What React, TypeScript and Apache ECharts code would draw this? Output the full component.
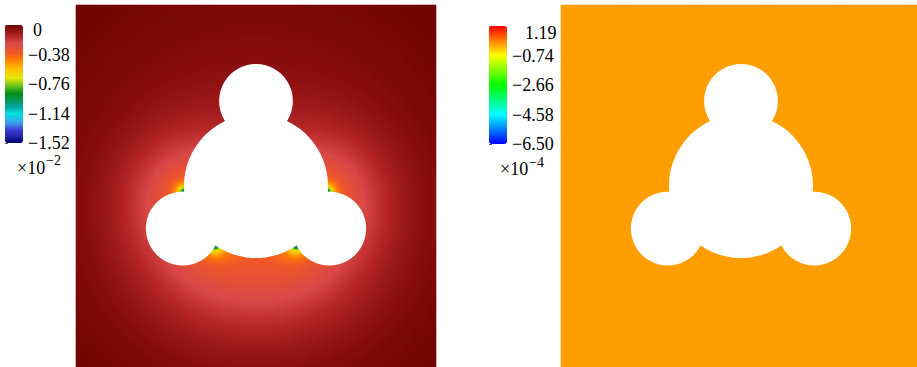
import React, { useEffect, useRef } from "react";
import * as echarts from "echarts";

// ---- Cut-out geometry (domain [-1, 1] x [-1, 1]): a large disc and three small discs ----
const holeX = [0, 0, -0.407, 0.407];
const holeY = [0, 0.47, -0.235, -0.235];
const holeR = [0.4, 0.205, 0.205, 0.205];

// ---- Left field (x10^-2): concentration at the four re-entrant corners ----
const leftMin = -1.52;
const leftMax = 0;
const leftTickValues = [0, -0.38, -0.76, -1.14, -1.52];
const leftTickLabels = ["0", "\u22120.38", "\u22120.76", "\u22121.14", "\u22121.52"];
const leftCols = 180;
const leftRows = 181;
// corners formed by the large disc with the left / right discs (indices into hole arrays)
const cornerPairs = [2, 3];
// halo strength and spread for the upper and lower corners
const haloAmp = { upper: 0.12, lower: 0.155 };
const haloSpread = { upper: 0.25, lower: 0.333 };
const coreAmp = 0.0167;
const coreSize = 0.0139;
const coreDecay = 0.139;
const broadAmp = 0.09;
const broadSpread = 0.694;

// ---- Right field (x10^-4): uniform ----
const rightMin = -6.5;
const rightMax = 1.19;
const rightTickValues = [1.19, -0.74, -2.66, -4.58, -6.5];
const rightTickLabels = ["1.19", "\u22120.74", "\u22122.66", "\u22124.58", "\u22126.50"];
const rightLevel = 0;
const rightCols = 40;
const rightRows = 181;

// ---- Colour maps ----
const leftStopT = [0, 0.05, 0.11, 0.17, 0.25, 0.3, 0.42, 0.48, 0.55, 0.63, 0.7, 0.76, 0.85, 0.9, 1];
const leftStopC = [
  "#000070", "#2020a0", "#3c3cd8", "#40a0f0", "#00e0e0", "#00a8a8", "#008c10",
  "#60c020", "#e6e600", "#ffc000", "#ff8000", "#f05828", "#d84848", "#b82828", "#6c0000",
];
const rightColors = [
  "#0000ff", "#0055ff", "#00aaff", "#00ffff", "#00ffaa", "#00ff55", "#00ff00",
  "#55ff00", "#aaff00", "#ffff00", "#ffaa00", "#ff5500", "#ff0000",
];

const FONT = "'Liberation Serif', 'DejaVu Serif', serif";
const LABEL_SIZE = 18;

function hexRgb(h: string) {
  const n = parseInt(h.slice(1), 16);
  return [(n >> 16) & 255, (n >> 8) & 255, n & 255];
}

function resample(ts: number[], cs: string[], n: number): string[] {
  const out: string[] = [];
  for (let k = 0; k < n; k++) {
    const t = k / (n - 1);
    let i = 0;
    while (i < ts.length - 2 && t > ts[i + 1]) i++;
    const f = Math.min(1, Math.max(0, (t - ts[i]) / (ts[i + 1] - ts[i])));
    const a = hexRgb(cs[i]);
    const b = hexRgb(cs[i + 1]);
    const c = a.map((v, j) => Math.round(v + (b[j] - v) * f));
    out.push(`rgb(${c[0]},${c[1]},${c[2]})`);
  }
  return out;
}

// intersection points of hole discs i and j
function discMeet(i: number, j: number): number[][] {
  const dx = holeX[j] - holeX[i];
  const dy = holeY[j] - holeY[i];
  const d = Math.hypot(dx, dy);
  const a = (d * d + holeR[i] ** 2 - holeR[j] ** 2) / (2 * d);
  const h = Math.sqrt(Math.max(0, holeR[i] ** 2 - a * a));
  const mx = holeX[i] + (a * dx) / d;
  const my = holeY[i] + (a * dy) / d;
  return [
    [mx - (h * dy) / d, my + (h * dx) / d],
    [mx + (h * dy) / d, my - (h * dx) / d],
  ];
}

const corners: number[][] = [];
cornerPairs.forEach((j) => {
  discMeet(0, j).forEach(([x, y]) => {
    const lower = y < holeY[j];
    corners.push([
      x,
      y,
      lower ? haloAmp.lower : haloAmp.upper,
      lower ? haloSpread.lower : haloSpread.upper,
    ]);
  });
});

function leftField(x: number, y: number) {
  let s = broadAmp * Math.exp(-(x * x + y * y) / (2 * broadSpread * broadSpread));
  for (const [cx, cy, amp, spread] of corners) {
    const d = Math.hypot(x - cx, y - cy);
    s += (coreAmp / (d + coreSize)) * Math.exp(-d / coreDecay);
    s += amp * Math.exp(-(d * d) / (2 * spread * spread));
  }
  return Math.max(leftMin, Math.min(leftMax, -s));
}

function deepInsideHole(x: number, y: number, margin: number) {
  for (let k = 0; k < holeX.length; k++) {
    if (Math.hypot(x - holeX[k], y - holeY[k]) < holeR[k] - margin) return true;
  }
  return false;
}

function buildCells(nx: number, ny: number, fn: (x: number, y: number) => number) {
  const cells: number[][] = [];
  const sx = 2 / nx;
  const sy = 2 / ny;
  const margin = 1.5 * Math.max(sx, sy);
  for (let i = 0; i < nx; i++) {
    for (let j = 0; j < ny; j++) {
      const x = -1 + (i + 0.5) * sx;
      const y = -1 + (j + 0.5) * sy;
      if (deepInsideHole(x, y, margin)) continue;
      cells.push([i, j, fn(x, y)]);
    }
  }
  return cells;
}

const leftCells = buildCells(leftCols, leftRows, leftField);
const rightCells = buildCells(rightCols, rightRows, () => rightLevel);
const holeRows = holeX.map((x, k) => [x, holeY[k], holeR[k]]);
const idx = (n: number) => Array.from({ length: n }, (_, k) => String(k));

function nearestIndex(values: number[], v: number) {
  let best = 0;
  values.forEach((t, k) => {
    if (Math.abs(t - v) < Math.abs(values[best] - v)) best = k;
  });
  return best;
}

const holeSeries = (axisIndex: number) => ({
  type: "custom",
  xAxisIndex: axisIndex,
  yAxisIndex: axisIndex,
  silent: true,
  data: holeRows,
  renderItem: (_p: any, api: any) => {
    const c = api.coord([api.value(0), api.value(1)]);
    const s = api.size([api.value(2), api.value(2)]);
    return {
      type: "circle",
      shape: { cx: c[0], cy: c[1], r: s[0] },
      style: { fill: "#ffffff" },
    };
  },
});

// colour-bar tick labels on the axis; the top label is drawn separately, a little lower
const barAxis = (
  gridIndex: number,
  min: number,
  max: number,
  values: number[],
  labels: string[],
  shift: number
) => ({
  type: "value",
  gridIndex,
  min,
  max,
  position: "right",
  splitLine: { show: false },
  axisLine: { show: false },
  axisTick: { show: true, length: 3, lineStyle: { color: "#555", width: 1 } },
  axisLabel: {
    margin: 5,
    fontFamily: FONT,
    fontSize: LABEL_SIZE,
    color: "#000",
    padding: [shift * 2, 0, 0, 0],
    showMinLabel: true,
    showMaxLabel: true,
    customValues: values,
    formatter: (v: number) => {
      const k = nearestIndex(values, v);
      return k === 0 ? "" : labels[k];
    },
  },
});

const textStyle = (text: string, size: number) => ({
  text,
  fontFamily: FONT,
  fontSize: size,
  fill: "#000",
  verticalAlign: "middle",
});

const panelLeft = 76;
const panelRight = 561;
const panelTop = 5;
const panelW = 360;
const panelH = 362;

const option: any = {
  animation: false,
  backgroundColor: "#ffffff",
  grid: [
    { left: panelLeft, top: panelTop, width: panelW, height: panelH, outerBoundsMode: "none" },
    { left: panelLeft, top: panelTop, width: panelW, height: panelH, outerBoundsMode: "none" },
    { left: panelRight, top: panelTop, width: panelW, height: panelH, outerBoundsMode: "none" },
    { left: panelRight, top: panelTop, width: panelW, height: panelH, outerBoundsMode: "none" },
    { left: 5, top: 25, width: 18, height: 118, outerBoundsMode: "none" },
    { left: 489, top: 26, width: 18, height: 118, outerBoundsMode: "none" },
  ],
  xAxis: [
    { type: "category", gridIndex: 0, data: idx(leftCols), show: false },
    { type: "value", gridIndex: 1, min: -1, max: 1, show: false },
    { type: "category", gridIndex: 2, data: idx(rightCols), show: false },
    { type: "value", gridIndex: 3, min: -1, max: 1, show: false },
    { type: "value", gridIndex: 4, min: 0, max: 1, show: false },
    { type: "value", gridIndex: 5, min: 0, max: 1, show: false },
  ],
  yAxis: [
    { type: "category", gridIndex: 0, data: idx(leftRows), show: false },
    { type: "value", gridIndex: 1, min: -1, max: 1, show: false },
    { type: "category", gridIndex: 2, data: idx(rightRows), show: false },
    { type: "value", gridIndex: 3, min: -1, max: 1, show: false },
    barAxis(4, leftMin, leftMax, leftTickValues, leftTickLabels, 0),
    barAxis(5, rightMin, rightMax, rightTickValues, rightTickLabels, 1),
  ],
  visualMap: [
    {
      type: "continuous",
      seriesIndex: 0,
      min: leftMin,
      max: leftMax,
      left: 5,
      top: 25,
      itemWidth: 18,
      itemHeight: 118,
      padding: 0,
      calculable: false,
      hoverLink: false,
      inRange: { color: resample(leftStopT, leftStopC, 61) },
    },
    {
      type: "continuous",
      seriesIndex: 2,
      min: rightMin,
      max: rightMax,
      left: 489,
      top: 26,
      itemWidth: 18,
      itemHeight: 118,
      padding: 0,
      calculable: false,
      hoverLink: false,
      inRange: { color: rightColors },
    },
  ],
  series: [
    {
      type: "heatmap",
      xAxisIndex: 0,
      yAxisIndex: 0,
      data: leftCells,
      progressive: 0,
      silent: true,
      emphasis: { disabled: true },
    },
    holeSeries(1),
    {
      type: "heatmap",
      xAxisIndex: 2,
      yAxisIndex: 2,
      data: rightCells,
      progressive: 0,
      silent: true,
      emphasis: { disabled: true },
    },
    holeSeries(3),
  ],
  graphic: [
    { type: "text", x: 33, y: 30, style: textStyle(leftTickLabels[0], LABEL_SIZE) },
    { type: "text", x: 525, y: 33, style: textStyle(rightTickLabels[0], LABEL_SIZE) },
    { type: "text", x: 17, y: 168, style: textStyle("\u00d710", LABEL_SIZE) },
    { type: "text", x: 46, y: 160, style: textStyle("\u22122", 14) },
    { type: "text", x: 500, y: 169, style: textStyle("\u00d710", LABEL_SIZE) },
    { type: "text", x: 529, y: 162, style: textStyle("\u22124", 14) },
  ],
};

export default function App() {
  const ref = useRef<HTMLDivElement>(null);
  useEffect(() => {
    const chart = echarts.init(ref.current!, null, { renderer: "svg" });
    chart.setOption(option);
    return () => chart.dispose();
  }, []);
  return (
    <div
      ref={ref}
      style={{ position: "absolute", left: 0, top: 0, width: 917, height: 367, background: "#fff" }}
    />
  );
}
